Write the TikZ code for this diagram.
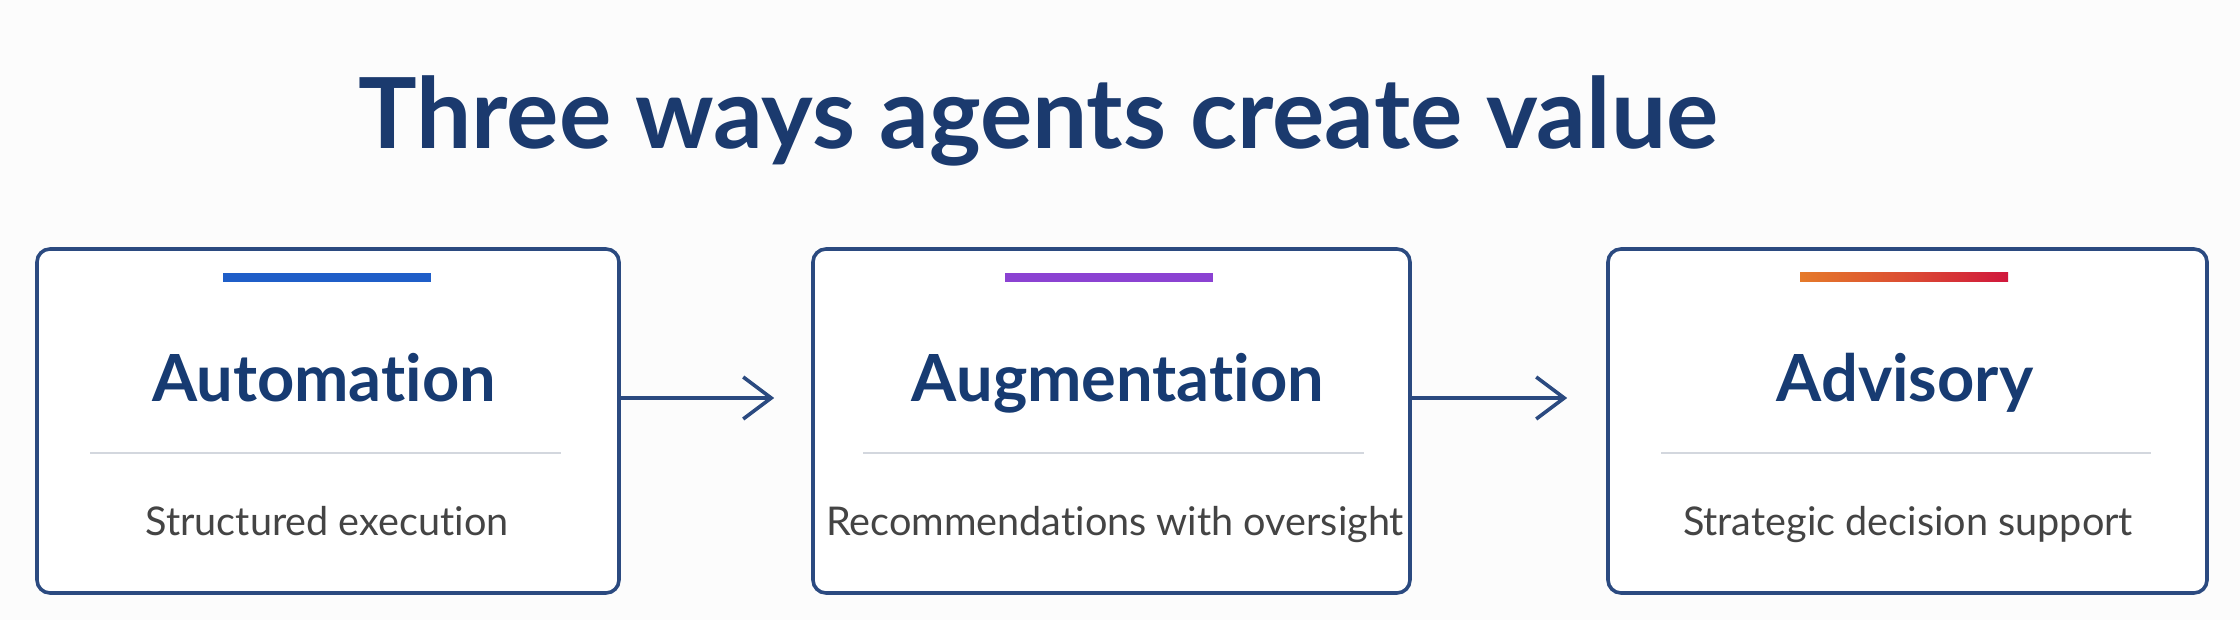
\documentclass[tikz,border=0pt]{standalone}
\usepackage{fontspec}
\setmainfont{Lato}[Ligatures=NoCommon]
\usetikzlibrary{arrows.meta,calc}
\definecolor{titlenavy}{HTML}{1B3A6E}
\definecolor{headnavy}{HTML}{173B72}
\definecolor{boxnavy}{HTML}{2B4A80}
\definecolor{subgray}{HTML}{444444}
\definecolor{sepgray}{HTML}{D3D7DE}
\definecolor{barblue}{HTML}{1F5EC8}
\definecolor{barpurple}{HTML}{8B42D2}
\definecolor{barorange}{HTML}{E57A2A}
\definecolor{barred}{HTML}{D0173C}
\definecolor{bgcol}{HTML}{FCFCFC}
\tikzset{
  cardbox/.style={draw=boxnavy, line width=1.8pt, rounded corners=6.5pt, fill=white, minimum height=172pt, inner sep=0pt},
  barline/.style={minimum width=104pt, minimum height=4.5pt, inner sep=0pt, draw=none},
  headtxt/.style={anchor=base, text=headnavy, font=\fontsize{32.5}{38}\selectfont\bfseries, inner sep=0pt},
  subtxt/.style={anchor=base, text=subgray, font=\fontsize{19.8}{23}\selectfont, inner sep=0pt},
  sepline/.style={draw=sepgray, line width=1pt},
  flowarrow/.style={draw=boxnavy, line width=1.8pt, -{Straight Barb[length=14pt,width=21pt,line width=1.8pt]}},
  titletxt/.style={anchor=base west, text=titlenavy, font=\fontsize{49}{58}\selectfont\bfseries, inner sep=0pt}
}
\begin{document}
\begin{tikzpicture}[x=0.5pt,y=-0.5pt]
\fill[bgcol] (0,0) rectangle (2240,620);
\useasboundingbox (0,0) rectangle (2240,620);
\node[titletxt] (title) at (358,149) {Three ways agents create value};
% boxes
\node[cardbox, minimum width=291pt] (b1) at (328,421) {};
\node[cardbox, minimum width=298.5pt] (b2) at (1111.5,421) {};
\node[cardbox, minimum width=299.5pt] (b3) at (1907.5,421) {};
% bars
\node[barline, fill=barblue] (bar1) at (326.5,277.5) {};
\node[barline, fill=barpurple] (bar2) at (1108.5,277.5) {};
\node[barline, left color=barorange, right color=barred, middle color=barorange!55!barred] (bar3) at (1904,277.5) {};
% headings
\node[headtxt] (h1) at (324,401) {Automation};
\node[headtxt] (h2) at (1118,401) {Augmentation};
\node[headtxt] (h3) at (1905,401) {Advisory};
% separators
\draw[sepline] ($(b1.west)+(55,32)$) -- ($(b1.east)+(-60,32)$);
\draw[sepline] ($(b2.west)+(52,32)$) -- ($(b2.east)+(-48,32)$);
\draw[sepline] ($(b3.west)+(55,32)$) -- ($(b3.east)+(-58,32)$);
% subtitles
\node[subtxt] (s1) at (327,535) {Structured execution};
\node[subtxt] (s2) at (1115,535) {Recommendations with oversight};
\node[subtxt] (s3) at (1908,535) {Strategic decision support};
% arrows
\draw[flowarrow] ($(b1.east)+(0,-23)$) -- ($(b2.west)+(-37,-23)$);
\draw[flowarrow] ($(b2.east)+(0,-23)$) -- ($(b3.west)+(-39,-23)$);
\end{tikzpicture}
\end{document}
